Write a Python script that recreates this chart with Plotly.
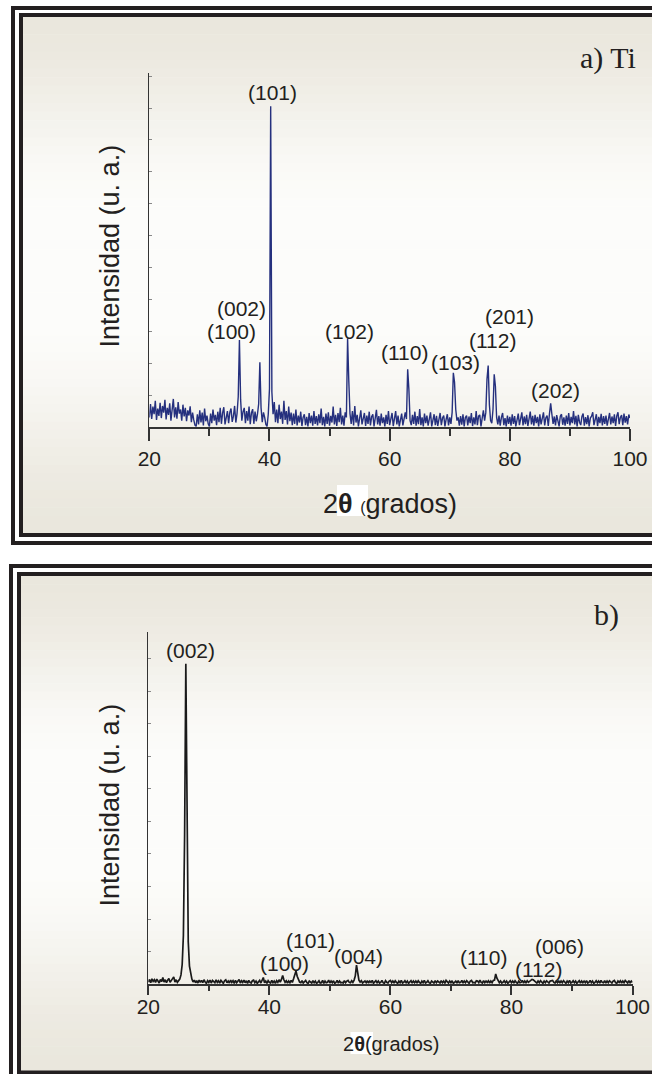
import plotly.graph_objects as go

W, H = 652, 1074

# ---------------- DATA ----------------
# 2-theta scan grid (degrees)
theta_start = 20.0
theta_step = 0.2

# a) Ti  (intensity, arbitrary units; 100 = one y tick)
ti_counts = [
    30, 72, 25, 64, 40, 82, 22, 58, 35, 76, 28, 66, 45, 85, 24, 60, 38, 74, 20, 68,
    88, 30, 62, 26, 78, 42, 55, 20, 70, 33, 60, 18, 52, 36, 65, 15, 45, 22, 6, 2,
    40, 8, 52, 14, 45, 5, 58, 18, 36, 10, 2, 42, 12, 55, 20, 38, 6, 48, 15, 60,
    10, 44, 62, 8, 38, 50, 12, 46, 58, 16, 34, 66, 14, 42, 95, 273, 85, 20, 48, 60,
    12, 50, 20, 64, 9, 44, 56, 10, 48, 18, 40, 72, 203, 60, 15, 46, 30, 8, 2, 40,
    120, 1006, 110, 40, 78, 15, 55, 12, 70, 25, 48, 10, 82, 22, 50, 8, 64, 18, 45, 6,
    42, 10, 55, 5, 36, 14, 48, 3, 30, 40, 6, 32, 2, 44, 12, 36, 4, 50, 10, 34,
    5, 40, 12, 58, 6, 32, 2, 42, 10, 46, 4, 35, 14, 64, 8, 38, 3, 44, 15, 60,
    8, 36, 4, 46, 30, 278, 145, 42, 10, 50, 5, 66, 14, 38, 2, 34, 52, 8, 30, 44,
    3, 36, 10, 48, 5, 32, 40, 2, 28, 54, 8, 34, 4, 42, 12, 30, 2, 38, 10, 50,
    6, 33, 44, 3, 28, 50, 8, 36, 2, 30, 42, 5, 30, 46, 25, 181, 118, 20, 6, 38,
    10, 48, 4, 34, 9, 56, 6, 30, 2, 42, 12, 36, 4, 32, 46, 2, 28, 40, 6, 35,
    3, 32, 44, 6, 28, 36, 2, 24, 40, 5, 30, 10, 46, 170, 140, 55, 20, 30, 4, 34,
    7, 40, 2, 30, 36, 5, 33, 12, 44, 3, 30, 8, 50, 6, 34, 38, 2, 28, 52, 20,
    45, 150, 193, 70, 20, 12, 55, 165, 128, 30, 8, 36, 4, 30, 44, 6, 28, 2, 36, 10,
    32, 4, 40, 10, 34, 2, 30, 42, 6, 28, 46, 5, 33, 9, 38, 3, 30, 48, 8, 35,
    4, 38, 12, 32, 2, 40, 8, 34, 46, 5, 29, 36, 3, 42, 74, 40, 10, 33, 5, 37,
    14, 2, 34, 40, 7, 30, 4, 36, 10, 44, 5, 32, 12, 50, 8, 35, 2, 38, 15, 6,
    33, 42, 4, 31, 9, 37, 2, 28, 34, 46, 6, 30, 40, 3, 32, 12, 41, 5, 34, 10,
    36, 4, 31, 44, 8, 33, 12, 40, 3, 35, 46, 9, 30, 37, 6, 42, 14, 34, 8, 39,
    28,
]

# b) pattern
b_counts = [
    6, 14, 4, 16, 8, 13, 5, 15, 9, 3, 14, 7, 20, 6, 13, 4, 12, 17, 5, 11,
    14, 22, 6, 13, 5, 12, 15, 28, 60, 150, 460, 985, 420, 130, 55, 28, 15, 6, 12, 4,
    10, 3, 12, 5, 11, 4, 13, 6, 2, 10, 5, 12, 3, 11, 6, 4, 13, 5, 10, 3,
    11, 5, 2, 10, 13, 4, 9, 3, 12, 5, 10, 2, 11, 4, 9, 14, 3, 10, 5, 12,
    4, 10, 2, 11, 5, 3, 10, 12, 4, 9, 2, 6, 11, 3, 10, 20, 4, 9, 2, 10,
    5, 3, 11, 4, 9, 2, 10, 5, 13, 6, 14, 26, 13, 5, 10, 3, 9, 4, 11, 5,
    16, 28, 40, 24, 12, 6, 4, 10, 3, 8, 11, 4, 2, 9, 5, 3, 10, 4, 9, 2,
    5, 10, 3, 4, 11, 2, 9, 4, 5, 12, 3, 9, 4, 10, 2, 5, 11, 3, 9, 4,
    5, 3, 10, 4, 9, 11, 5, 4, 10, 5, 12, 25, 58, 30, 12, 6, 10, 3, 5, 9,
    4, 10, 3, 9, 5, 11, 2, 5, 10, 4, 9, 3, 5, 11, 4, 2, 10, 5, 3, 9,
    11, 4, 9, 3, 10, 5, 2, 9, 4, 11, 3, 5, 10, 4, 9, 2, 5, 10, 3, 9,
    4, 9, 3, 10, 5, 2, 9, 4, 11, 3, 5, 10, 4, 2, 9, 5, 3, 10, 4, 9,
    5, 3, 10, 4, 9, 2, 11, 5, 3, 9, 4, 10, 2, 5, 9, 3, 10, 4, 5, 11,
    3, 9, 4, 10, 5, 2, 9, 11, 4, 5, 3, 10, 9, 4, 12, 5, 3, 10, 4, 9,
    5, 10, 3, 9, 4, 11, 12, 31, 18, 10, 4, 9, 3, 5, 10, 4, 9, 2, 5, 10,
    4, 9, 3, 10, 5, 2, 9, 4, 5, 11, 3, 9, 4, 10, 5, 9, 10, 14, 13, 10,
    5, 3, 9, 4, 10, 5, 2, 9, 4, 10, 5, 3, 9, 10, 11, 5, 3, 9, 4, 10,
    3, 9, 4, 10, 5, 2, 9, 4, 11, 3, 5, 10, 4, 9, 2, 5, 10, 3, 9, 4,
    9, 4, 10, 3, 5, 11, 4, 9, 2, 5, 10, 4, 9, 3, 11, 5, 4, 10, 3, 9,
    4, 10, 5, 3, 9, 11, 4, 2, 9, 5, 10, 3, 9, 4, 11, 5, 3, 10, 4, 9,
    5,
]

x_tickvals = [20, 40, 60, 80, 100]
x_ticktext = ["20", "40", "60", "80", "100"]

ti_labels = ["(101)", "(002)", "(100)", "(102)", "(110)", "(103)", "(112)", "(201)", "(202)"]
b_labels = ["(002)", "(100)", "(101)", "(004)", "(110)", "(112)", "(006)"]

# ---------------- LAYOUT HELPERS ----------------
def px(x):
    return x / W

def py(y):
    return 1 - y / H

theta_ti = [round(theta_start + i * theta_step, 1) for i in range(len(ti_counts))]
theta_b = [round(theta_start + i * theta_step, 1) for i in range(len(b_counts))]

# label anchor positions (data coords: 2θ, intensity)
ti_label_pos = [(40.58, 1050), (35.42, 373), (33.76, 298), (53.39, 298), (62.55, 235),
                (71.03, 201), (77.19, 270), (80.02, 348), (87.67, 113)]
b_label_pos = [(26.89, 1025), (42.51, 62), (46.84, 135), (54.76, 86), (75.32, 83),
               (84.5, 46), (87.97, 115)]

FONT = "Liberation Sans, Arial, sans-serif"
SERIF = "Liberation Serif, Times New Roman, serif"
TXT = "#231F20"
AX = "#333333"

fig = go.Figure()
fig.add_trace(go.Scatter(x=theta_ti, y=ti_counts, mode="lines",
                         line=dict(color="#25307E", width=1.4), xaxis="x", yaxis="y",
                         showlegend=False, hoverinfo="skip"))
fig.add_trace(go.Scatter(x=theta_b, y=b_counts, mode="lines",
                         line=dict(color="#1a1a1a", width=1.7), xaxis="x2", yaxis="y2",
                         showlegend=False, hoverinfo="skip"))

def xaxis_style(domain, tl, mtl, standoff):
    return dict(domain=domain, range=[20, 100], tickmode="array", tickvals=x_tickvals,
                ticktext=x_ticktext, ticks="outside", ticklen=tl, tickwidth=1.5,
                tickcolor=AX, showline=True, linecolor=AX, linewidth=1.8,
                showgrid=False, zeroline=False, ticklabelstandoff=standoff,
                tickfont=dict(family=FONT, size=21, color=TXT),
                minor=dict(tickvals=[30, 50, 70, 90], ticks="outside", ticklen=mtl,
                           tickwidth=1.5, tickcolor=AX, showgrid=False))

def yaxis_style(domain, top):
    return dict(domain=domain, range=[0, top], tick0=0, dtick=100, ticks="inside",
                ticklen=3, tickwidth=1, tickcolor="#888", showticklabels=False,
                showline=True, linecolor=AX, linewidth=1.3, showgrid=False,
                zeroline=False)

fig.update_layout(
    width=W, height=H, margin=dict(l=0, r=0, t=0, b=0, autoexpand=False),
    paper_bgcolor="white", plot_bgcolor="rgba(0,0,0,0)",
    xaxis=dict(xaxis_style([px(149.3), px(630)], 12, 7, 0), anchor="y"),
    yaxis=dict(yaxis_style([py(427), py(73)], 1110), anchor="x"),
    xaxis2=dict(xaxis_style([px(148.3), px(632.5)], 9, 5, -6), anchor="y2"),
    yaxis2=dict(yaxis_style([py(984), py(632)], 1083), anchor="x2"),
)

# ---------------- BACKGROUND (gradient panels, frames) ----------------
shapes = []
beige = (234, 231, 221)
white = (252, 252, 250)

def shade(t):
    if t < 0.38:
        w = t / 0.38
    elif t < 0.58:
        w = 1.0
    else:
        w = 1 - (t - 0.58) / 0.42
    w = w * w * (3 - 2 * w)
    c = [round(beige[k] + (white[k] - beige[k]) * w) for k in range(3)]
    return "rgb(%d,%d,%d)" % tuple(c)

def gradient(x0, y0, x1, y1, n=60):
    h = (y1 - y0) / n
    for i in range(n):
        ya = y0 + i * h
        yb = min(ya + h + 0.6, y1)
        shapes.append(dict(type="rect", xref="paper", yref="paper", layer="below",
                           x0=px(x0), x1=px(x1), y0=py(ya), y1=py(yb),
                           line=dict(width=0), fillcolor=shade((i + 0.5) / n)))

gradient(23, 17, W, 533)
gradient(21, 576, W, 1071)

# white boxes behind theta
for (a, b, c, d) in [(337, 485, 368, 516), (350.5, 1032, 373, 1054)]:
    shapes.append(dict(type="rect", xref="paper", yref="paper", layer="below",
                       x0=px(a), x1=px(c), y0=py(b), y1=py(d),
                       line=dict(width=0), fillcolor="white"))

FR = "#231F20"

def frame_path(pts):
    s = "M %.5f,%.5f" % (px(pts[0][0]), py(pts[0][1]))
    for (a, b) in pts[1:]:
        s += " L %.5f,%.5f" % (px(a), py(b))
    return s

for pts, wdt in [([(W, 8), (13, 8), (13, 543), (W, 543)], 4),
                 ([(W, 15), (21, 15), (21, 535), (W, 535)], 4),
                 ([(W, 566), (11, 566), (11, H)], 4),
                 ([(W, 574), (19, 574), (19, 1072.5), (W, 1072.5)], 4)]:
    shapes.append(dict(type="path", xref="paper", yref="paper", layer="above",
                       path=frame_path(pts), line=dict(color=FR, width=wdt),
                       fillcolor="rgba(0,0,0,0)"))

fig.update_layout(shapes=shapes)

# ---------------- ANNOTATIONS ----------------
ann = []
for lab, (xx, yy) in zip(ti_labels, ti_label_pos):
    ann.append(dict(x=xx, y=yy, xref="x", yref="y", text=lab, showarrow=False,
                    xanchor="center", yanchor="middle",
                    font=dict(family=FONT, size=21, color=TXT)))
for lab, (xx, yy) in zip(b_labels, b_label_pos):
    ann.append(dict(x=xx, y=yy, xref="x2", yref="y2", text=lab, showarrow=False,
                    xanchor="center", yanchor="middle",
                    font=dict(family=FONT, size=21, color=TXT)))

# panel tags
ann.append(dict(x=px(608), y=py(58), xref="paper", yref="paper", text="a) Ti",
                showarrow=False, xanchor="center", yanchor="middle",
                font=dict(family=SERIF, size=30, color=TXT)))
ann.append(dict(x=px(606), y=py(615), xref="paper", yref="paper", text="b)",
                showarrow=False, xanchor="center", yanchor="middle",
                font=dict(family=SERIF, size=30, color=TXT)))

# y titles
for yc in (246, 805):
    ann.append(dict(x=px(109.5), y=py(yc), xref="paper", yref="paper",
                    text="Intensidad (u. a.)", textangle=-90, showarrow=False,
                    xanchor="center", yanchor="middle",
                    font=dict(family=FONT, size=27, color=TXT)))

# x titles
ann.append(dict(x=px(389.5), y=py(504), xref="paper", yref="paper",
                text="2<b>θ</b> <span style='font-size:16px'>(</span>grados)",
                showarrow=False, xanchor="center", yanchor="middle",
                font=dict(family=FONT, size=27, color=TXT)))
ann.append(dict(x=px(391), y=py(1044), xref="paper", yref="paper",
                text="2<b>θ</b>(grados)", showarrow=False,
                xanchor="center", yanchor="middle",
                font=dict(family=FONT, size=20, color=TXT)))

fig.update_layout(annotations=ann)

fig.write_html("out.html")
